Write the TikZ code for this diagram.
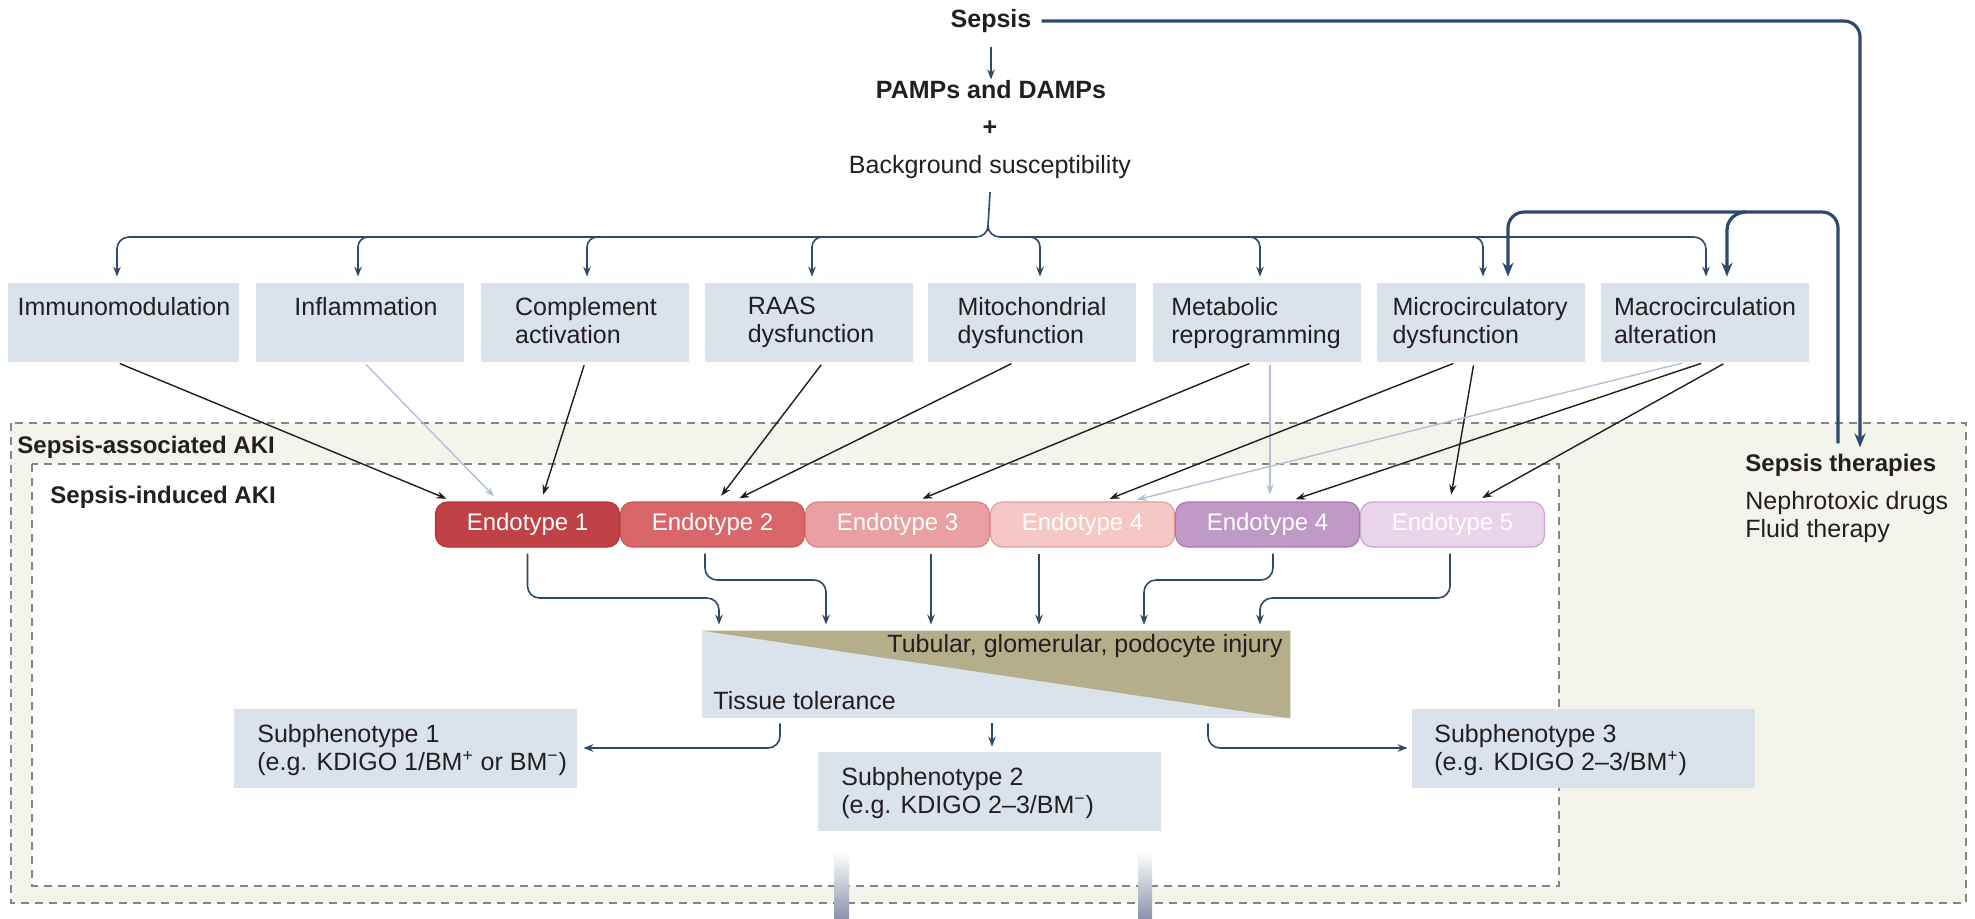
\documentclass[tikz,border=0pt]{standalone}
\usepackage{fontspec}
\setmainfont{Liberation Sans}
\usetikzlibrary{arrows.meta}
\definecolor{navy}{HTML}{2E4A6B}
\definecolor{boxc}{HTML}{DAE2EB}
\definecolor{beigec}{HTML}{F4F3EC}
\definecolor{tanc}{HTML}{B4AE8B}
\definecolor{lgtc}{HTML}{B3C0D3}
\definecolor{blkc}{HTML}{1E1E1E}
\definecolor{textc}{HTML}{231F20}
\definecolor{dashc}{HTML}{858585}
\definecolor{barc}{HTML}{8A95AB}
\definecolor{eA}{HTML}{C04146}\definecolor{eAb}{HTML}{B0353A}
\definecolor{eB}{HTML}{D9676A}\definecolor{eBb}{HTML}{C95559}
\definecolor{eC}{HTML}{E8A0A2}\definecolor{eCb}{HTML}{D98185}
\definecolor{eD}{HTML}{F6C8C5}\definecolor{eDb}{HTML}{E59D9D}
\definecolor{eE}{HTML}{C09AC7}\definecolor{eEb}{HTML}{A77AAE}
\definecolor{eF}{HTML}{EAD4EA}\definecolor{eFb}{HTML}{C9A5CF}
\begin{document}
\begin{tikzpicture}[x=0.5pt,y=-0.5pt,
  txt/.style={inner sep=0pt, font=\fontsize{12.5}{14}\selectfont, text=textc, align=left},
  btxt/.style={inner sep=0pt, font=\fontsize{12.5}{14}\selectfont\bfseries, text=textc},
  lbl/.style={inner sep=0pt, font=\fontsize{12}{14}\selectfont\bfseries, text=textc},
  catbox/.style={fill=boxc, minimum width=104pt, minimum height=39.5pt, inner sep=0pt},
  subbox/.style={fill=boxc, minimum width=171.5pt, minimum height=39.5pt, inner sep=0pt},
  endo/.style={rounded corners=6pt, minimum width=92pt, minimum height=22.5pt, inner sep=0pt,
     font=\fontsize{12}{14}\selectfont, text=white, line width=0.6pt},
  navyarrow/.style={draw=navy, line width=0.8pt, -{Stealth[length=5pt,width=3.8pt]}},
  thickarrow/.style={draw=navy, line width=1.6pt, -{Stealth[length=7pt,width=5.5pt]}},
  blk/.style={draw=blkc, line width=0.7pt, -{Stealth[length=5pt,width=3.6pt]}, shorten <=1.5pt, shorten >=3.5pt},
  lgt/.style={draw=lgtc, line width=0.7pt, -{Stealth[length=5pt,width=3.6pt]}, shorten <=1.5pt, shorten >=3.5pt},
  dashbox/.style={draw=dashc, dash pattern=on 4pt off 3pt, line width=0.6pt}
]
\useasboundingbox (0,0) rectangle (1975,918);

% dashed regions
\filldraw[dashbox, fill=beigec] (11,423) rectangle (1966,903);
\filldraw[dashbox, fill=white] (32,464) rectangle (1559,886);
\node[lbl, anchor=west] (sa) at (17,447) {Sepsis-associated AKI};
\node[lbl, anchor=west] (si) at (50,497) {Sepsis-induced AKI};

% top
\node[btxt] (sep) at (991,21) {Sepsis};
\node[btxt] (pamps) at (991,90) {PAMPs and DAMPs};
\node[btxt] (plus) at (990,128) {+};
\node[txt] (bg) at (990,167) {Background susceptibility};
\draw[navyarrow, shorten <=7pt, shorten >=0.5pt] (sep.south) -- (pamps.north);

% category boxes
\node[catbox, minimum width=115.5pt] (b1) at (123.5,322.5) {};
\node[catbox] (b2) at (359.5,322.5) {};
\node[catbox] (b3) at (584.5,322.5) {};
\node[catbox] (b4) at (808.5,322.5) {};
\node[catbox] (b5) at (1032,322.5) {};
\node[catbox] (b6) at (1256.5,322.5) {};
\node[catbox] (b7) at (1480.5,322.5) {};
\node[catbox] (b8) at (1705,322.5) {};
\node[txt, anchor=north] (t1) at (124,297) {Immunomodulation};
\node[txt, anchor=north] (t2) at (366,297) {Inflammation};
\node[txt, anchor=north] (t3) at (586,297) {Complement\\activation};
\node[txt, anchor=north] (t4) at (811,297) {RAAS\\dysfunction};
\node[txt, anchor=north] (t5) at (1032,297) {Mitochondrial\\dysfunction};
\node[txt, anchor=north] (t6) at (1256,297) {Metabolic\\reprogramming};
\node[txt, anchor=north] (t7) at (1480,297) {Microcirculatory\\dysfunction};
\node[txt, anchor=north] (t8) at (1705,297) {Macrocirculation\\alteration};

% fan
\draw[navyarrow, shorten >=3pt] (bg.south) ++(0,13) -- (988,226) to[out=-90,in=0] (976,237) -- (129,237)
   to[out=180,in=90] (117,249) -- (117,0 |- b1.north);
\draw[navyarrow, shorten >=3pt] (988,226) to[out=-90,in=180] (1000,237) -- (1694,237)
   to[out=0,in=90] (1706,249) -- (1706,0 |- b8.north);
\foreach \x/\b in {358/b2,587/b3,812/b4}
  \draw[navyarrow, shorten >=3pt] (\x+10,237) to[out=180,in=90] (\x,247) -- (\x,0 |- \b.north);
\foreach \x/\b in {1040/b5,1260/b6,1483/b7}
  \draw[navyarrow, shorten >=3pt] (\x-10,237) to[out=0,in=90] (\x,247) -- (\x,0 |- \b.north);

% sepsis therapies
\node[lbl, anchor=west] (ther) at (1745,465) {Sepsis therapies};
\node[txt, anchor=north west] (thl) at (1745,491) {Nephrotoxic drugs\\Fluid therapy};

% thick arrows
\draw[thickarrow, rounded corners=8pt, shorten <=5pt, shorten >=3pt] (sep.east) -- (1860,21) -- (1860,0 |- ther.north);
\draw[thickarrow, rounded corners=8pt, shorten <=5pt, shorten >=3pt] (1838,0 |- ther.north) -- (1838,212) -- (1508,212) -- (1508,0 |- b7.north);
\draw[thickarrow, shorten >=3pt] (1746,212) to[out=180,in=90] (1727,230) -- (1727,0 |- b8.north);

% endotypes
\node[endo, fill=eA, draw=eAb] (e1) at (527.5,524.5) {Endotype 1};
\node[endo, fill=eB, draw=eBb] (e2) at (712.5,524.5) {Endotype 2};
\node[endo, fill=eC, draw=eCb] (e3) at (897.5,524.5) {Endotype 3};
\node[endo, fill=eD, draw=eDb] (e4) at (1082.5,524.5) {Endotype 4};
\node[endo, fill=eE, draw=eEb] (e4b) at (1267.5,524.5) {Endotype 4};
\node[endo, fill=eF, draw=eFb] (e5) at (1452.5,524.5) {Endotype 5};

% category -> endotype
\draw[blk] (117,0 |- b1.south) -- (453,0 |- e1.north);
\draw[lgt] (364,0 |- b2.south) -- (499,0 |- e1.north);
\draw[blk] (585,0 |- b3.south) -- (541,0 |- e1.north);
\draw[blk] (823,0 |- b4.south) -- (717,0 |- e2.north);
\draw[blk] (1014,0 |- b5.south) -- (733,0 |- e2.north);
\draw[blk] (1252,0 |- b6.south) -- (916,0 |- e3.north);
\draw[lgt] (1270,0 |- b6.south) -- (1270,0 |- e4b.north);
\draw[blk] (1456,0 |- b7.south) -- (1103,0 |- e4.north);
\draw[blk] (1474,0 |- b7.south) -- (1450,0 |- e5.north);
\draw[lgt] (1685,0 |- b8.south) -- (1130,0 |- e4.north);
\draw[blk] (1704,0 |- b8.south) -- (1289,0 |- e4b.north);
\draw[blk] (1726,0 |- b8.south) -- (1476,0 |- e5.north);

% injury / tolerance
\node[fill=boxc, minimum width=294pt, minimum height=43.5pt, inner sep=0pt] (inj) at (996,674.5) {};
\fill[tanc] (inj.north west) -- (inj.north east) -- (inj.south east) -- cycle;
\node[txt, anchor=east] (injt) at (1283,646) {Tubular, glomerular, podocyte injury};
\node[txt, anchor=west] (tol) at (713,701) {Tissue tolerance};

% endotype -> injury
\draw[navyarrow, rounded corners=6pt, shorten <=3pt, shorten >=3pt] (527.5,0 |- e1.south) -- (527.5,598) -- (719,598) -- (719,0 |- inj.north);
\draw[navyarrow, rounded corners=6pt, shorten <=3pt, shorten >=3pt] (705,0 |- e2.south) -- (705,580) -- (826,580) -- (826,0 |- inj.north);
\draw[navyarrow, shorten <=3pt, shorten >=3pt] (931,0 |- e3.south) -- (931,0 |- inj.north);
\draw[navyarrow, shorten <=3pt, shorten >=3pt] (1039,0 |- e4.south) -- (1039,0 |- inj.north);
\draw[navyarrow, rounded corners=6pt, shorten <=3pt, shorten >=3pt] (1273,0 |- e4b.south) -- (1273,580) -- (1144,580) -- (1144,0 |- inj.north);
\draw[navyarrow, rounded corners=6pt, shorten <=3pt, shorten >=3pt] (1450,0 |- e5.south) -- (1450,598) -- (1260,598) -- (1260,0 |- inj.north);

% subphenotypes
\node[subbox] (s1) at (405.5,748) {};
\node[subbox] (s2) at (989,791.5) {};
\node[subbox] (s3) at (1583.5,748) {};
\node[txt, anchor=north west] (s1t) at (257,724) {Subphenotype 1\\(e.g. KDIGO 1/BM\textsuperscript{+} or BM\textsuperscript{−})};
\node[txt, anchor=north west] (s2t) at (841,767) {Subphenotype 2\\(e.g. KDIGO 2–3/BM\textsuperscript{−})};
\node[txt, anchor=north west] (s3t) at (1434,724) {Subphenotype 3\\(e.g. KDIGO 2–3/BM\textsuperscript{+})};

\draw[navyarrow, rounded corners=6pt, shorten <=2.5pt, shorten >=3pt] (780,0 |- inj.south) |- (s1.east);
\draw[navyarrow, shorten <=2.5pt, shorten >=2.5pt] (992,0 |- inj.south) -- (992,0 |- s2.north);
\draw[navyarrow, rounded corners=6pt, shorten <=2.5pt, shorten >=2pt] (1208,0 |- inj.south) |- (s3.west);

% bottom bars
\shade[top color=white, bottom color=barc] (834,852) rectangle (849,918);
\shade[top color=white, bottom color=barc] (1138,852) rectangle (1152,918);
\end{tikzpicture}
\end{document}
